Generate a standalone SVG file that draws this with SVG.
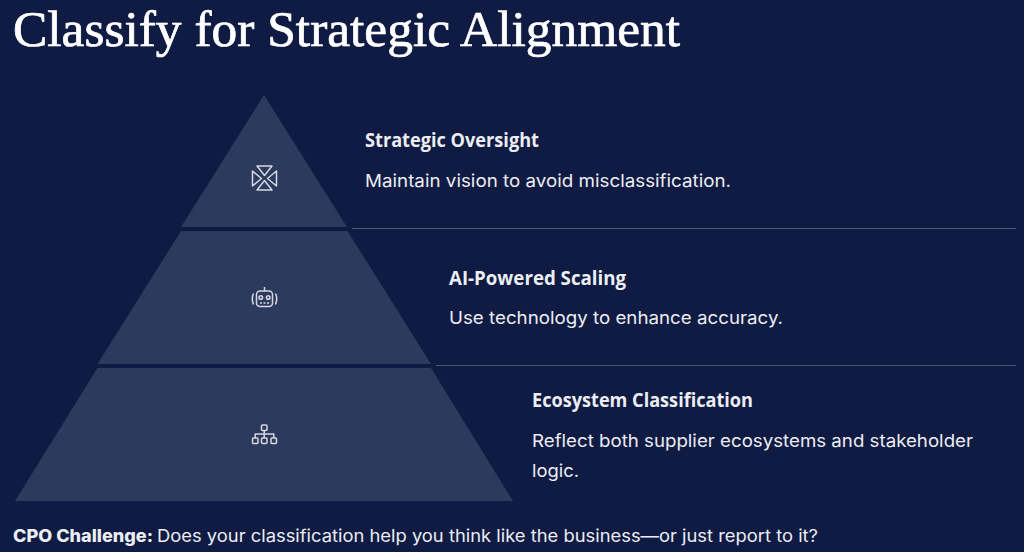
<svg xmlns="http://www.w3.org/2000/svg" width="1024" height="552" viewBox="0 0 1024 552">
<style>
.tier{fill:#2c3a5e}
.title{font-family:"Liberation Serif","DejaVu Serif",serif;font-size:50px;fill:#fff;stroke:#fff;stroke-width:.7px}
.head{font-family:"Open Sans","Noto Sans",sans-serif;font-weight:700;font-size:19px;fill:#eceef4}
.body{font-family:"Inter","Open Sans",sans-serif;font-size:17.5px;fill:#eceef4}
.foot{font-family:"Inter","Open Sans",sans-serif;font-size:17px;fill:#eceef4}
.ic{fill:none;stroke:#d5d8e2;stroke-width:1.5;stroke-linejoin:round}
.rule{stroke:#4a5678;stroke-width:1}
</style>
<rect width="1024" height="552" fill="#0f1b42"/>
<text class="title" x="13" y="46" textLength="667" lengthAdjust="spacingAndGlyphs">Classify for Strategic Alignment</text>
<g id="connectors">
<line class="rule" x1="352" y1="228.500" x2="1016" y2="228.500"/>
<line class="rule" x1="436" y1="365.500" x2="1016" y2="365.500"/>
</g>
<g id="tier-1">
<polygon class="tier" points="264,95 347,227 181,227"/>
<g class="ic">
<path d="M257 166H272L264.500 175.500ZM257 190H272L264.500 180.500ZM252.500 171V186L261.500 178.500ZM276.500 171V186L267.500 178.500Z"/>
</g>
<text class="head" x="365" y="147" textLength="174" lengthAdjust="spacingAndGlyphs">Strategic Oversight</text>
<text class="body" x="365" y="187" textLength="366" lengthAdjust="spacingAndGlyphs">Maintain vision to avoid misclassification.</text>
</g>
<g id="tier-2">
<polygon class="tier" points="347.500,231 431,364 97.500,364 181,231"/>
<g class="ic">
<rect x="256.500" y="291" width="16" height="15.500" rx="3.500"/>
<path d="M264.500 291V287"/>
<circle cx="260.800" cy="297.500" r="1.800"/>
<circle cx="268.200" cy="297.500" r="1.800"/>
<path d="M260 303H269" stroke-dasharray="2 1.500"/>
<path d="M253.500 293.500Q251 298.500 253.500 304.500M275.500 293.500Q278 298.500 275.500 304.500"/>
</g>
<text class="head" x="449" y="285" textLength="177" lengthAdjust="spacingAndGlyphs">AI-Powered Scaling</text>
<text class="body" x="449" y="324" textLength="334" lengthAdjust="spacingAndGlyphs">Use technology to enhance accuracy.</text>
</g>
<g id="tier-3">
<polygon class="tier" points="431,368 513,501 15,501 97.500,368"/>
<g class="ic">
<rect x="261.500" y="425" width="5.500" height="5.500" rx="1"/>
<rect x="252.500" y="438" width="5.500" height="5.500" rx="1"/>
<rect x="261.500" y="438" width="5.500" height="5.500" rx="1"/>
<rect x="271" y="438" width="5.500" height="5.500" rx="1"/>
<path d="M264.200 430.500V438M255.200 438V434H273.800V438"/>
</g>
<text class="head" x="532" y="407" textLength="221" lengthAdjust="spacingAndGlyphs">Ecosystem Classification</text>
<text class="body" x="532" y="447" textLength="441" lengthAdjust="spacingAndGlyphs">Reflect both supplier ecosystems and stakeholder</text>
<text class="body" x="532" y="477" textLength="47" lengthAdjust="spacingAndGlyphs">logic.</text>
</g>
<text class="foot" x="13" y="542" font-weight="800" textLength="140" lengthAdjust="spacingAndGlyphs">CPO Challenge:</text>
<text class="foot" x="157" y="542" textLength="661" lengthAdjust="spacingAndGlyphs">Does your classification help you think like the business—or just report to it?</text>
</svg>
